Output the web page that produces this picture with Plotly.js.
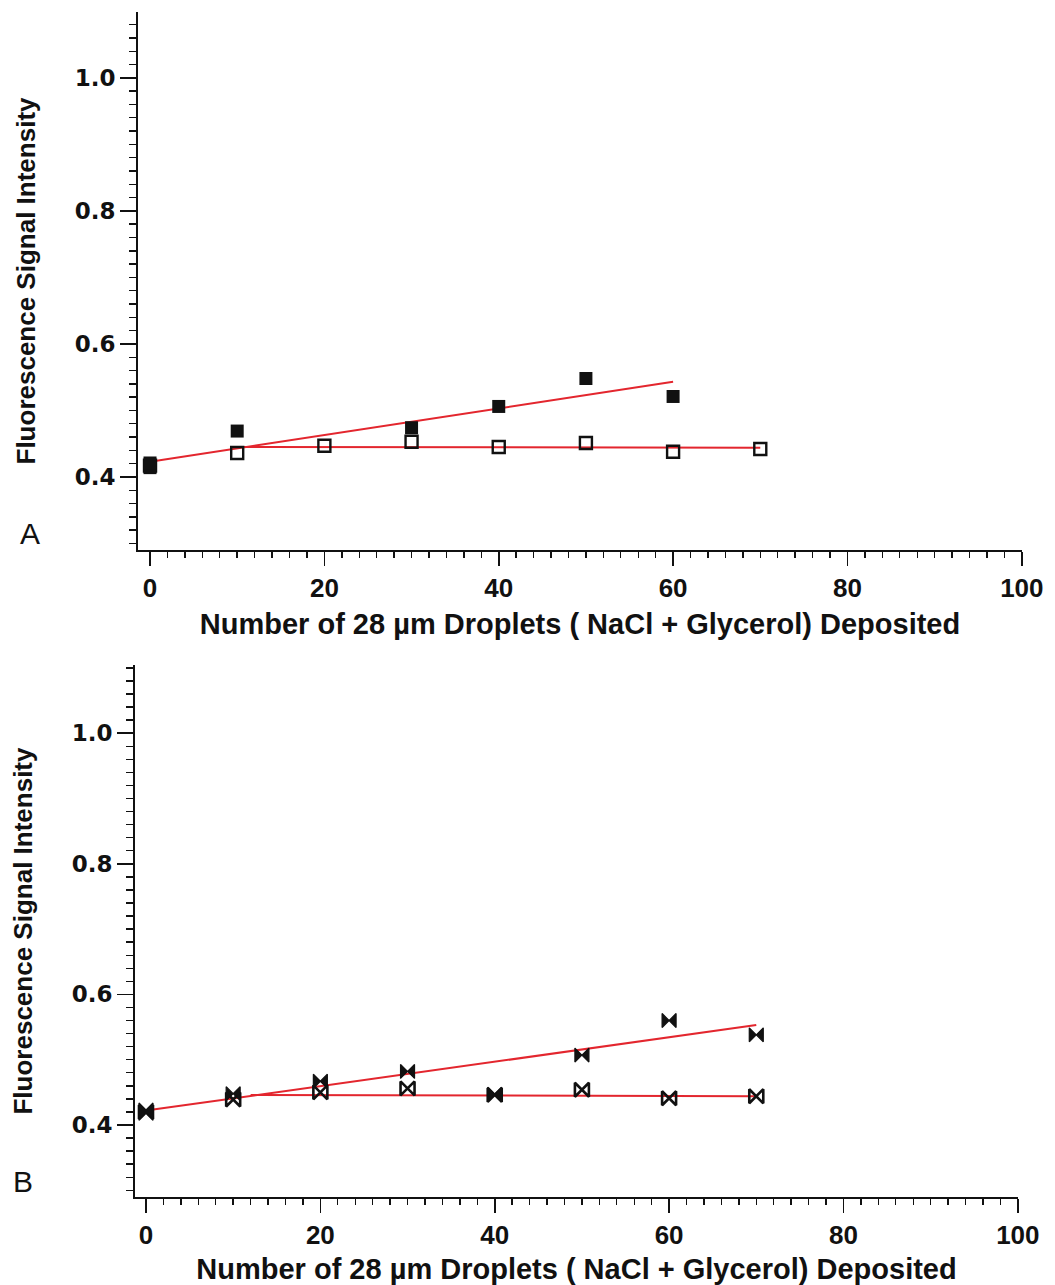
<!DOCTYPE html>
<html>
<head>
<meta charset="utf-8">
<script src="https://cdn.plot.ly/plotly-3.0.1.min.js"></script>
<style>html,body{margin:0;padding:0;background:#fff;}#chart{width:1055px;height:1285px;}</style>
</head>
<body>
<div id="chart"></div>
<script>
// ---- Data ----
// Panel A
const aFilledX = [0, 0, 10, 30, 40, 50, 60];
const aFilledY = [0.414, 0.421, 0.469, 0.474, 0.506, 0.548, 0.521];
const aOpenX = [0, 10, 20, 30, 40, 50, 60, 70];
const aOpenY = [0.417, 0.436, 0.447, 0.453, 0.445, 0.451, 0.438, 0.442];
const aFitRiseX = [0, 60];
const aFitRiseY = [0.423, 0.543];
const aFitFlatX = [10, 70];
const aFitFlatY = [0.445, 0.444];
// Panel B
const bFilledX = [0, 0, 10, 20, 30, 40, 50, 60, 70];
const bFilledY = [0.418, 0.423, 0.448, 0.467, 0.482, 0.447, 0.507, 0.560, 0.538];
const bOpenX = [0, 10, 20, 30, 40, 50, 60, 70];
const bOpenY = [0.420, 0.439, 0.450, 0.456, 0.446, 0.454, 0.441, 0.444];
const bFitRiseX = [0, 70];
const bFitRiseY = [0.422, 0.553];
const bFitFlatX = [12, 70];
const bFitFlatY = [0.446, 0.444];

const xTitle = 'Number of 28 µm Droplets ( NaCl + Glycerol) Deposited';
const yTitle = 'Fluorescence Signal Intensity';
const panelLabels = ['A', 'B'];

const RED = '#e3262e';

const traces = [
  {x: aFitRiseX, y: aFitRiseY, xaxis: 'x', yaxis: 'y', mode: 'lines', line: {color: RED, width: 2}, hoverinfo: 'skip'},
  {x: aFitFlatX, y: aFitFlatY, xaxis: 'x', yaxis: 'y', mode: 'lines', line: {color: RED, width: 2}, hoverinfo: 'skip'},
  {x: aOpenX, y: aOpenY, xaxis: 'x', yaxis: 'y', mode: 'markers',
   marker: {symbol: 'square-open', size: 12, color: '#111', line: {width: 2.4, color: '#111'}}},
  {x: aFilledX, y: aFilledY, xaxis: 'x', yaxis: 'y', mode: 'markers',
   marker: {symbol: 'square', size: 13, color: '#111', line: {width: 0}}},
  {x: bFitRiseX, y: bFitRiseY, xaxis: 'x2', yaxis: 'y2', mode: 'lines', line: {color: RED, width: 2}, hoverinfo: 'skip'},
  {x: bFitFlatX, y: bFitFlatY, xaxis: 'x2', yaxis: 'y2', mode: 'lines', line: {color: RED, width: 2}, hoverinfo: 'skip'},
  {x: bOpenX, y: bOpenY, xaxis: 'x2', yaxis: 'y2', mode: 'markers',
   marker: {symbol: 'bowtie-open', size: 14, color: '#111', line: {width: 2.6, color: '#111'}}},
  {x: bFilledX, y: bFilledY, xaxis: 'x2', yaxis: 'y2', mode: 'markers',
   marker: {symbol: 'bowtie', size: 14, color: '#111', line: {width: 1.2, color: '#111'}}}
];

const tickFontX = {family: 'Arial, "Liberation Sans", sans-serif', size: 26, color: '#111', weight: 'bold'};
const tickFontY = {family: '"DejaVu Sans", sans-serif', size: 23, color: '#111', weight: 'bold'};
const titleFontX = {family: 'Arial, "Liberation Sans", sans-serif', size: 29, color: '#111', weight: 'bold'};
const titleFontY = {family: 'Arial, "Liberation Sans", sans-serif', size: 26, color: '#111', weight: 'bold'};

function mainX(domain, range, anchor) {
  return {
    domain: domain, range: range, autorange: false, anchor: anchor,
    showline: true, linecolor: '#111', linewidth: 2,
    showgrid: false, zeroline: false,
    ticks: 'outside', ticklen: 14, tickwidth: 1.6, tickcolor: '#111',
    tick0: 0, dtick: 20, tickfont: tickFontX, ticklabelstandoff: 0,
    minor: {ticks: 'outside', dtick: 2, tick0: 0, ticklen: 6, tickwidth: 1.4, tickcolor: '#111', showgrid: false},
    title: {text: xTitle, font: titleFontX, standoff: 12}
  };
}
function midX(overlay, range, anchor) {
  return {
    overlaying: overlay, range: range, autorange: false, anchor: anchor,
    showline: false, showgrid: false, zeroline: false, showticklabels: false,
    ticks: 'outside', ticklen: 9, tickwidth: 1.4, tickcolor: '#111', tick0: 0, dtick: 10
  };
}
function mainY(domain, range, anchor) {
  return {
    domain: domain, range: range, autorange: false, anchor: anchor,
    showline: true, linecolor: '#111', linewidth: 2,
    showgrid: false, zeroline: false,
    ticks: 'outside', ticklen: 16, tickwidth: 1.6, tickcolor: '#111',
    tick0: 0, dtick: 0.2, tickformat: '.1f', tickfont: tickFontY,
    minor: {ticks: 'outside', dtick: 0.02, tick0: 0, ticklen: 7, tickwidth: 1.4, tickcolor: '#111', showgrid: false},
    title: {text: yTitle, font: titleFontY, standoff: 32}
  };
}
function midY(overlay, range, anchor) {
  return {
    overlaying: overlay, range: range, autorange: false, anchor: anchor,
    showline: false, showgrid: false, zeroline: false, showticklabels: false,
    ticks: 'outside', ticklen: 11, tickwidth: 1.4, tickcolor: '#111', tick0: 0, dtick: 0.1
  };
}

const rXA = [-1.376, 100.02];
const rXB = [-1.26, 100.02];
const rYA = [0.2902, 1.099];
const rYB = [0.2897, 1.1044];

const layout = {
  width: 1055, height: 1285,
  margin: {l: 135, r: 33, t: 12, b: 88},
  paper_bgcolor: '#ffffff', plot_bgcolor: '#ffffff',
  showlegend: false,
  font: {family: 'Arial, "Liberation Sans", sans-serif', color: '#111'},
  xaxis: mainX([0.0034, 1], rXA, 'y'),
  yaxis: mainY([0.546, 1], rYA, 'x'),
  xaxis2: mainX([0, 0.9955], rXB, 'y2'),
  yaxis2: mainY([0, 0.4489], rYB, 'x2'),
  xaxis3: midX('x', rXA, 'y'),
  yaxis3: midY('y', rYA, 'x'),
  xaxis4: midX('x2', rXB, 'y2'),
  yaxis4: midY('y2', rYB, 'x2'),
  annotations: [
    {text: panelLabels[0], xref: 'paper', yref: 'paper', x: -0.118, y: 0.5595, xanchor: 'center', yanchor: 'middle',
     showarrow: false, font: {family: 'Arial, "Liberation Sans", sans-serif', size: 30, color: '#111'}},
    {text: panelLabels[1], xref: 'paper', yref: 'paper', x: -0.126, y: 0.0131, xanchor: 'center', yanchor: 'middle',
     showarrow: false, font: {family: 'Arial, "Liberation Sans", sans-serif', size: 30, color: '#111'}}
  ]
};

Plotly.newPlot('chart', traces, layout, {staticPlot: true, displayModeBar: false});
</script>
</body>
</html>
